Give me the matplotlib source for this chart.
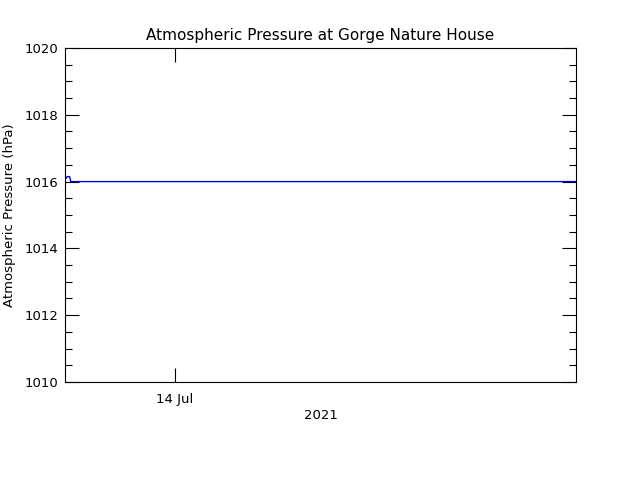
import matplotlib
matplotlib.use("Agg")
import matplotlib.pyplot as plt
import matplotlib.dates as mdates
from matplotlib.ticker import MultipleLocator
import datetime as dt

# pressure readings, July 2021
times = ["2021-07-13 00:00", "2021-07-13 00:15", "2021-07-13 00:30",
         "2021-07-13 00:45", "2021-07-13 01:00", "2021-07-13 01:15",
         "2021-07-17 15:30"]
pressure = [1016.15, 1016.10, 1016.15, 1016.15, 1016.15, 1016.00, 1016.00]

t = [dt.datetime.strptime(s, "%Y-%m-%d %H:%M") for s in times]
x_start = dt.datetime(2021, 7, 13, 0, 0)
x_end = dt.datetime(2021, 7, 17, 15, 30)
xticks = [dt.datetime(2021, 7, 14)]

fig = plt.figure(figsize=(6.4, 4.8), dpi=100)
ax = fig.add_axes([65/640, 98/480, 511/640, 334/480])

ax.plot(t, pressure, color="#0000dd", lw=1.0)

ax.set_xlim(x_start, x_end)
ax.set_ylim(1010, 1020)
ax.set_xticks(xticks)
ax.xaxis.set_major_formatter(mdates.DateFormatter("%d %b"))
ax.yaxis.set_major_locator(MultipleLocator(2))
ax.yaxis.set_minor_locator(MultipleLocator(0.5))
ax.yaxis.set_major_formatter(plt.FormatStrFormatter("%d"))

ax.tick_params(which="both", direction="in", top=True, right=True,
               labelsize=9.5, width=0.8, pad=5)
ax.tick_params(axis="x", pad=8)
ax.tick_params(which="major", length=10)
ax.tick_params(which="minor", length=5)
for s in ax.spines.values():
    s.set_linewidth(0.8)

ax.set_title("Atmospheric Pressure at Gorge Nature House", fontsize=11, pad=6)
ax.set_ylabel("Atmospheric Pressure (hPa)", fontsize=9.5, labelpad=6)
ax.set_xlabel("2021", fontsize=9.5, labelpad=2)

fig.savefig("out.png", dpi=100)
